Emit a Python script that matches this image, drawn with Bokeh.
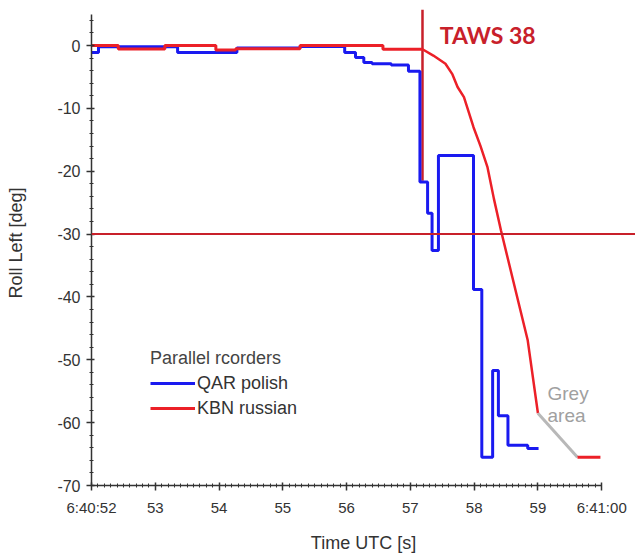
import numpy as np
from bokeh.plotting import figure
from bokeh.models import FixedTicker, Span, Legend, LegendItem, Range1d
from bokeh.core.properties import value
from bokeh.embed import file_html
from bokeh.resources import INLINE

# ---- data (time in seconds after 6:40:00 UTC, roll in degrees) ----
# QAR polish: step series (time of change, value held until next change)
qar_t = [52.00, 52.11, 53.35, 54.28, 55.27, 55.97, 56.14, 56.27, 56.40, 56.70, 56.97,
         57.15, 57.27, 57.34, 57.44, 57.99, 58.12, 58.29, 58.38, 58.53, 58.84, 59.01]
qar_v = [-1.1, -0.2, -1.1, -0.4, -0.15, -1.1, -1.9, -2.7, -2.9, -3.1, -4.1,
         -21.7, -26.7, -32.6, -17.5, -38.8, -65.5, -51.7, -58.9, -63.6, -64.1, -64.1]

# KBN russian: flat step part, then continuous roll-off
kbn_flat_t = [52.00, 52.42, 53.15, 53.95, 54.26, 55.27, 56.57, 57.19]
kbn_flat_v = [0.0, -0.55, 0.0, -0.7, -0.5, 0.0, -0.6, -0.6]
kbn_t = [57.19, 57.36, 57.55, 57.66, 57.74, 57.84, 57.99, 58.10, 58.21, 58.31,
         58.42, 58.60, 58.84, 59.00]
kbn_v = [-0.6, -1.6, -2.9, -4.6, -6.6, -8.2, -13.0, -16.0, -19.4, -24.4,
         -29.4, -36.9, -46.9, -58.5]
grey_t = [59.00, 59.62]
grey_v = [-58.5, -65.5]
kbn_tail_t = [59.62, 59.98]
kbn_tail_v = [-65.5, -65.5]

# reference lines
taws_time = 57.19
taws_low = -21.5
taws_high = 5.7
bank_limit = -30

# ticks
x_ticks = [52, 53, 54, 55, 56, 57, 58, 59, 60]
x_tick_labels = ["6:40:52", "53", "54", "55", "56", "57", "58", "59", "6:41:00"]
y_ticks = [-70, -60, -50, -40, -30, -20, -10, 0]
y_tick_labels = ["-70", "-60", "-50", "-40", "-30", "-20", "-10", "0"]

X_END = 60.53
Y_END = 7.16

p = figure(width=635, height=556, output_backend="svg", toolbar_location=None,
           x_range=Range1d(52, X_END), y_range=Range1d(-70, Y_END))
p.min_border_left = 91
p.min_border_right = 0
p.min_border_top = 0
p.min_border_bottom = 71
p.outline_line_color = None
p.xgrid.visible = False
p.ygrid.visible = False
p.background_fill_color = "white"
p.border_fill_color = "white"

FONT = "Liberation Sans"
AX_COL = "#333333"

for ax in (p.xaxis[0], p.yaxis[0]):
    ax.axis_line_color = AX_COL
    ax.axis_line_width = 1.5
    ax.major_tick_line_color = AX_COL
    ax.minor_tick_line_color = AX_COL
    ax.major_tick_line_width = 1.5
    ax.major_tick_in = 3
    ax.major_tick_out = 5
    ax.minor_tick_in = 2
    ax.minor_tick_out = 2
    ax.major_label_text_font = FONT
    ax.major_label_text_color = AX_COL
    ax.axis_label_text_font = FONT
    ax.axis_label_text_font_style = "normal"
    ax.axis_label_text_color = AX_COL
    ax.axis_label_text_font_size = "18px"

p.xaxis.ticker = FixedTicker(ticks=x_ticks, minor_ticks=list(np.round(np.arange(52, 60.001, 0.1), 2)))
p.yaxis.ticker = FixedTicker(ticks=y_ticks, minor_ticks=list(range(-70, 5, 2)))
p.xaxis.major_label_overrides = dict(zip(x_ticks, x_tick_labels))
p.yaxis.major_label_overrides = dict(zip(y_ticks, y_tick_labels))
p.xaxis.bounds = (52, 60)
p.yaxis.bounds = (-70, 5)
p.xaxis.major_label_text_font_size = "15px"
p.yaxis.major_label_text_font_size = "16px"
p.xaxis.major_label_standoff = 8
p.yaxis.major_label_standoff = 6
p.xaxis.axis_label = "Time UTC [s]"
p.yaxis.axis_label = "Roll Left [deg]"
p.xaxis.axis_label_standoff = 14
p.yaxis.axis_label_standoff = 28

BLUE = "#1a1af0"
RED = "#ec2028"
DARK_RED = "#c8202a"

# reference lines
p.add_layout(Span(location=bank_limit, dimension="width", line_color=DARK_RED, line_width=2))
p.segment(x0=[taws_time], y0=[taws_low], x1=[taws_time], y1=[taws_high], line_color=DARK_RED, line_width=2.5)

r_blue = p.step(qar_t, qar_v, mode="after", line_color=BLUE, line_width=3)
r_red = p.step(kbn_flat_t, kbn_flat_v, mode="after", line_color=RED, line_width=3)
p.line(kbn_t, kbn_v, line_color=RED, line_width=2.5)
p.line(grey_t, grey_v, line_color="#b8b8b8", line_width=3)
p.line(kbn_tail_t, kbn_tail_v, line_color=RED, line_width=3)

p.text(x=[57.46], y=[1.6], text=["TAWS 38"], text_font=value("Lato"), text_font_style="bold",
       text_font_size="23px", text_color=DARK_RED, text_baseline="alphabetic")
p.text(x=[59.15, 59.15], y=[-55.4, -58.9], text=["Grey", "area"], text_font=value(FONT),
       text_font_size="19px", text_color="#a0a0a0", text_baseline="alphabetic")

legend = Legend(items=[LegendItem(label="QAR polish", renderers=[r_blue]),
                       LegendItem(label="KBN russian", renderers=[r_red])],
                title="Parallel rcorders", location=(59, 65))
legend.title_text_font = FONT
legend.title_text_font_style = "normal"
legend.title_text_font_size = "18px"
legend.title_text_color = "#444444"
legend.title_standoff = 2
legend.label_text_font = FONT
legend.label_text_font_size = "18px"
legend.label_text_color = AX_COL
legend.glyph_width = 45
legend.glyph_height = 24
legend.label_height = 24
legend.label_standoff = 2
legend.spacing = 1
legend.padding = 0
legend.margin = 0
legend.border_line_color = None
legend.background_fill_alpha = 0
p.add_layout(legend, "center")

open("out.html", "w").write(file_html(p, INLINE))
